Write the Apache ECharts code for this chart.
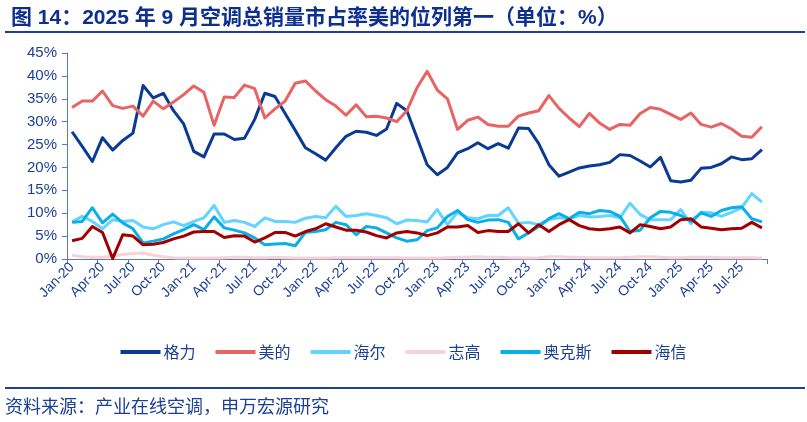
<!DOCTYPE html>
<html>
<head>
<meta charset="utf-8">
<script src="https://cdn.jsdelivr.net/npm/echarts@6/dist/echarts.min.js"></script>
<style>
html,body{margin:0;padding:0;background:#fff;}
#c{width:807px;height:422px;}
</style>
</head>
<body>
<div id="c"></div>
<script>
const categories = [
'Jan-20','Feb-20','Mar-20','Apr-20','May-20','Jun-20','Jul-20','Aug-20','Sep-20','Oct-20','Nov-20','Dec-20',
'Jan-21','Feb-21','Mar-21','Apr-21','May-21','Jun-21','Jul-21','Aug-21','Sep-21','Oct-21','Nov-21','Dec-21',
'Jan-22','Feb-22','Mar-22','Apr-22','May-22','Jun-22','Jul-22','Aug-22','Sep-22','Oct-22','Nov-22','Dec-22',
'Jan-23','Feb-23','Mar-23','Apr-23','May-23','Jun-23','Jul-23','Aug-23','Sep-23','Oct-23','Nov-23','Dec-23',
'Jan-24','Feb-24','Mar-24','Apr-24','May-24','Jun-24','Jul-24','Aug-24','Sep-24','Oct-24','Nov-24','Dec-24',
'Jan-25','Feb-25','Mar-25','Apr-25','May-25','Jun-25','Jul-25','Aug-25','Sep-25'
];
const gree = [27.8,24.6,21.3,26.5,23.8,25.9,27.5,37.9,35.2,36.2,32.4,29.5,
23.5,22.3,27.3,27.3,26.1,26.4,30.5,36.2,35.5,31.8,28.1,24.3,
23.0,21.6,24.3,26.8,27.9,27.7,27.0,28.4,34.0,32.4,26.5,20.6,
18.4,20.0,23.2,24.1,25.4,24.1,25.2,24.2,28.6,28.5,25.2,20.6,
18.1,19.0,19.9,20.3,20.6,21.1,22.8,22.6,21.4,20.1,22.2,17.1,
16.8,17.2,19.8,20.0,20.8,22.3,21.7,21.9,23.9];
const midea = [33.1,34.5,34.5,36.7,33.5,32.9,33.4,31.2,34.5,32.8,34.3,35.9,
37.8,36.4,29.2,35.4,35.3,38.0,37.2,30.8,32.8,34.5,38.4,38.9,
36.7,34.8,33.4,31.4,33.7,31.1,31.2,30.8,30.0,32.4,37.4,41.0,
36.9,35.0,28.3,30.3,31.0,29.4,29.0,29.0,31.2,31.9,32.4,35.7,
32.9,30.8,28.9,31.8,29.7,28.3,29.4,29.2,31.8,33.1,32.7,31.6,
30.5,31.9,29.4,28.8,29.6,28.4,26.8,26.6,28.9];
const haier = [8.1,9.3,8.2,6.6,8.6,8.2,8.4,7.0,6.6,7.5,8.1,7.3,
8.2,9.0,11.7,8.0,8.4,8.0,7.1,9.0,8.2,8.2,8.0,8.9,
9.3,9.0,11.5,9.3,9.5,9.9,9.5,9.0,7.7,8.5,8.4,8.1,
10.8,7.5,10.2,9.0,8.8,9.5,9.5,11.2,7.8,8.0,7.5,8.6,
9.0,8.8,9.5,9.2,9.3,9.5,9.0,12.2,9.7,8.6,8.6,8.6,
10.8,7.7,10.2,10.1,9.3,10.2,11.2,14.3,12.4];
const chigo = [0.8,0.5,0.4,0.4,0.6,1.0,1.2,1.3,0.8,0.5,0.3,0.2,
0.2,0.2,0.2,0.3,0.4,0.4,0.3,0.3,0.4,0.3,0.2,0.2,
0.2,0.2,0.3,0.3,0.3,0.3,0.3,0.3,0.3,0.2,0.2,0.2,
0.2,0.3,0.4,0.4,0.5,0.4,0.4,0.3,0.3,0.2,0.3,0.5,
0.5,0.4,0.4,0.3,0.3,0.3,0.3,0.4,0.5,0.5,0.4,0.3,
0.3,0.4,0.4,0.4,0.3,0.3,0.3,0.3,0.2];
const aux = [8.0,8.2,11.2,7.9,9.8,7.9,6.6,3.5,3.9,4.4,5.5,6.4,
7.5,6.4,9.2,6.8,6.3,5.7,4.6,3.1,3.3,3.4,2.9,5.8,
6.0,6.4,8.0,7.5,5.3,7.1,6.8,5.7,4.6,3.9,4.2,6.2,
6.8,9.3,10.6,8.6,8.0,8.5,8.6,8.0,4.4,5.7,7.1,8.8,
9.9,8.8,10.2,9.9,10.6,10.4,9.3,6.0,6.3,9.0,10.4,10.2,
9.5,8.2,10.1,9.3,10.6,11.2,11.4,8.8,8.1];
const hisense = [4.0,4.5,7.1,5.8,0.1,5.3,5.0,3.1,3.2,3.6,4.4,5.0,
5.9,6.0,6.0,4.7,5.1,5.0,3.7,4.6,5.8,5.8,5.0,6.0,
6.6,7.7,7.0,6.3,6.3,5.9,5.1,4.6,5.7,6.0,5.7,5.1,
5.7,7.0,7.0,7.3,5.8,6.2,6.0,6.0,7.7,5.7,7.5,6.0,
7.5,8.6,7.3,6.6,6.4,6.6,7.0,5.7,7.5,7.1,6.6,7.0,
8.6,8.8,7.0,6.7,6.4,6.6,6.7,8.0,6.8];
const seriesNames = ['格力','美的','海尔','志高','奥克斯','海信'];
const seriesColors = ['#0A3A91','#E86464','#62D4FF','#F9D3D3','#0AAFEA','#A00000'];
const seriesData = [gree, midea, haier, chigo, aux, hisense];

const navy = '#1C3F96';
const chart = echarts.init(document.getElementById('c'), null, {renderer:'canvas'});
chart.setOption({
  backgroundColor:'#fff',
  animation:false,
  title:{
    text:'图 14：2025 年 9 月空调总销量市占率美的位列第一（单位：%）',
    left:6, top:3,
    textStyle:{color:'#0D2F8E', fontSize:21, fontWeight:'bold', fontFamily:'"Liberation Sans","Noto Sans CJK SC",sans-serif'}
  },
  graphic:[
    {type:'rect', shape:{x:5,y:31,width:800,height:2}, style:{fill:'#1F3F9F'}},
    {type:'rect', shape:{x:5,y:387,width:800,height:2}, style:{fill:'#1F3F9F'}},
    {type:'text', left:5, top:397, style:{text:'资料来源：产业在线空调，申万宏源研究', fill:navy, font:'18px "Noto Sans CJK SC", sans-serif'}}
  ],
  legend:{
    data:seriesNames,
    top:339, left:'center',
    icon:'rect', itemWidth:40, itemHeight:4, itemGap:20,
    textStyle:{color:navy, fontSize:16, fontFamily:'"Noto Sans CJK SC",sans-serif', padding:[0,0,0,-2]}
  },
  grid:{left:67, right:40, top:53, bottom:163, containLabel:false},
  xAxis:{
    type:'category', data:categories, boundaryGap:true,
    axisLine:{lineStyle:{color:'#5A78C8', width:1}},
    axisTick:{show:true, interval:2, length:5, lineStyle:{color:'#5A78C8'}},
    axisLabel:{interval:2, rotate:45, color:navy, fontSize:14, margin:6, fontFamily:'"Liberation Sans",Arial,sans-serif'},
    splitLine:{show:false}
  },
  yAxis:{
    type:'value', min:0, max:45, interval:5,
    axisLine:{show:true, lineStyle:{color:'#5A78C8', width:1}},
    axisTick:{show:true, length:5, lineStyle:{color:'#5A78C8'}},
    axisLabel:{formatter:'{value}%', color:navy, fontSize:15, margin:10, fontFamily:'"Liberation Sans",Arial,sans-serif'},
    splitLine:{show:false}
  },
  series: seriesNames.map((n,i)=>({
    name:n, type:'line', data:seriesData[i], showSymbol:false, symbol:'none',
    lineStyle:{width:3, color:seriesColors[i], join:'round'},
    itemStyle:{color:seriesColors[i]},
    z: 2+i
  }))
});
</script>
</body>
</html>
